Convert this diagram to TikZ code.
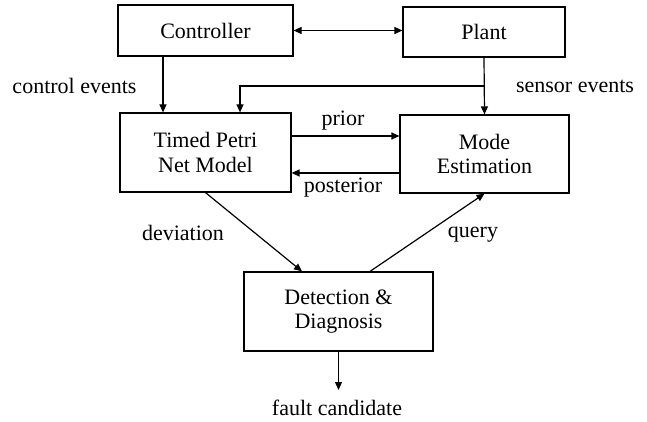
\documentclass[tikz,border=0pt]{standalone}
\usepackage{fontspec}
\setmainfont{Liberation Serif}
\usetikzlibrary{arrows.meta,calc}
\begin{document}
\begin{tikzpicture}[x=1pt,y=-1pt,
  box/.style={draw,line width=1.2pt,align=center,inner sep=0pt,font=\fontsize{22}{24.5}\selectfont},
  lbl/.style={font=\fontsize{22}{24.5}\selectfont,inner sep=0pt},
  conn/.style={line width=1.2pt,-{Triangle[length=8pt,width=7pt]}},
  dconn/.style={line width=1.2pt,{Triangle[length=8pt,width=7pt]}-{Triangle[length=8pt,width=7pt]}}]
\useasboundingbox (0,0) rectangle (647,422);
\node[box,minimum width=175pt,minimum height=51pt] (ctrl) at (205.5,30.5) {Controller};
\node[box,minimum width=162pt,minimum height=50pt] (plant) at (484,32) {Plant};
\node[box,minimum width=171pt,minimum height=79pt] (tpn) at (205.5,152.5) {Timed Petri\\Net Model};
\node[box,minimum width=169pt,minimum height=78pt] (mode) at (484.5,154) {Mode\\Estimation};
\node[box,minimum width=189pt,minimum height=79pt] (det) at (338.5,311.5) {Detection \&\\Diagnosis};
\node[lbl] (ce) at (74.5,86) {control events};
\node[lbl] (se) at (575,86) {sensor events};
\node[lbl] (pr) at (343,121) {prior};
\node[lbl] (po) at (343,188) {posterior};
\node[lbl] (dv) at (183,233) {deviation};
\node[lbl] (qu) at (473,235) {query};
\node[lbl] (fc) at (337,408) {fault candidate};
\coordinate (br) at (484,86);
\coordinate (tl) at (240,86);
\draw[dconn] (ctrl.east) -- (ctrl.east -| plant.west);
\draw[conn] (163,0 |- ctrl.south) -- (163,0 |- tpn.north);
\draw[conn] (plant.south) -- (mode.north);
\draw[conn] (br) -- (tl) -- (tl |- tpn.north);
\draw[conn] (tpn.east |- 0,136) -- (mode.west |- 0,136);
\draw[conn] (mode.west |- 0,173) -- (tpn.east |- 0,173);
\draw[conn] (tpn.south) -- (302,0 |- det.north);
\draw[conn] (370,0 |- det.north) -- (mode.south);
\draw[conn] (det.south) -- (338.5,390) coordinate (fe);
\end{tikzpicture}
\end{document}
